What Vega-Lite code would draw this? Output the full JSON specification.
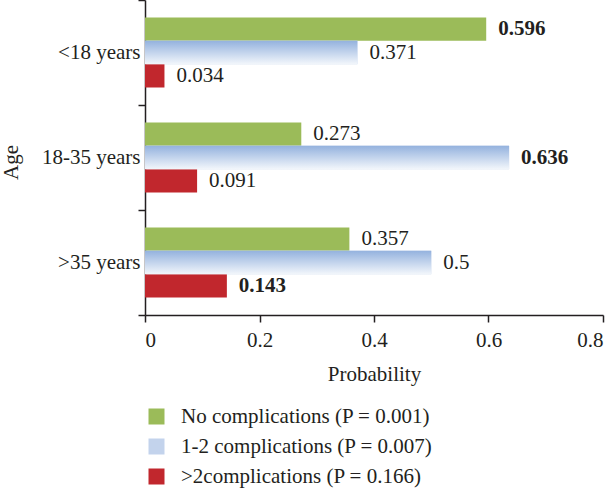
{
  "$schema": "https://vega.github.io/schema/vega-lite/v6.json",
  "width": 458,
  "height": 315,
  "autosize": "none",
  "padding": {"left": 145, "top": 0, "right": 13, "bottom": 189},
  "config": {
    "font": "Liberation Serif",
    "view": {"stroke": null},
    "axis": {
      "domainColor": "#231F20", "tickColor": "#231F20", "labelColor": "#231F20", "titleColor": "#231F20",
      "labelFont": "Liberation Serif", "titleFont": "Liberation Serif",
      "labelFontSize": 21, "titleFontSize": 21, "titleFontWeight": "normal",
      "grid": false, "domainWidth": 1.5, "tickWidth": 1.5
    }
  },
  "data": {
    "values": [
      {"age": "<18 years", "group": "No complications (P = 0.001)", "value": 0.596},
      {"age": "<18 years", "group": "1-2 complications (P = 0.007)", "value": 0.371},
      {"age": "<18 years", "group": ">2complications (P = 0.166)", "value": 0.034},
      {"age": "18-35 years", "group": "No complications (P = 0.001)", "value": 0.273},
      {"age": "18-35 years", "group": "1-2 complications (P = 0.007)", "value": 0.636},
      {"age": "18-35 years", "group": ">2complications (P = 0.166)", "value": 0.091},
      {"age": ">35 years", "group": "No complications (P = 0.001)", "value": 0.357},
      {"age": ">35 years", "group": "1-2 complications (P = 0.007)", "value": 0.5},
      {"age": ">35 years", "group": ">2complications (P = 0.166)", "value": 0.143}
    ]
  },
  "transform": [
    {"joinaggregate": [{"op": "max", "field": "value", "as": "maxv"}], "groupby": ["group"]}
  ],
  "encoding": {
    "y": {
      "field": "age", "type": "nominal",
      "sort": ["<18 years", "18-35 years", ">35 years"],
      "scale": {"paddingInner": 0, "paddingOuter": 0},
      "axis": {"title": "Age", "tickBand": "extent", "tickSize": 7, "labelPadding": -2, "titleX": -124, "titleY": 162}
    },
    "yOffset": {
      "field": "group", "type": "nominal",
      "sort": ["No complications (P = 0.001)", "1-2 complications (P = 0.007)", ">2complications (P = 0.166)"],
      "scale": {"paddingInner": 0, "paddingOuter": 0.75}
    },
    "x": {
      "field": "value", "type": "quantitative",
      "scale": {"domain": [0, 0.8]},
      "axis": {"title": "Probability", "values": [0, 0.2, 0.4, 0.6, 0.8], "format": "~g", "tickSize": 7, "labelPadding": 7, "titlePadding": 13}
    }
  },
  "layer": [
    {
      "mark": {"type": "bar"},
      "encoding": {
        "fill": {
          "field": "group", "type": "nominal",
          "sort": ["No complications (P = 0.001)", "1-2 complications (P = 0.007)", ">2complications (P = 0.166)"],
          "scale": {"range": ["#9BBB59", "#C3D3EC", "#C1272D"]},
          "legend": {
            "orient": "none", "legendX": 1, "legendY": 406, "title": null,
            "symbolType": "square", "symbolSize": 256, "symbolStrokeWidth": 0,
            "labelFontSize": 21, "labelFont": "Liberation Serif", "labelColor": "#231F20",
            "labelOffset": 14, "rowPadding": 8, "padding": 0, "labelLimit": 500
          }
        }
      }
    },
    {
      "transform": [{"filter": "datum.group == '1-2 complications (P = 0.007)'"}],
      "mark": {"type": "bar", "fill": {"gradient": "linear", "x1": 0, "y1": 0, "x2": 0, "y2": 1, "stops": [{"offset": 0, "color": "#94B2DE"}, {"offset": 1, "color": "#F2F6FB"}]}},
      "encoding": {}
    },
    {
      "transform": [{"filter": "datum.value < datum.maxv"}],
      "mark": {"type": "text", "align": "left", "dx": 12, "fontSize": 21, "color": "#231F20", "font": "Liberation Serif"},
      "encoding": {"text": {"field": "value", "type": "quantitative", "format": "~g"}}
    },
    {
      "transform": [{"filter": "datum.value == datum.maxv"}],
      "mark": {"type": "text", "align": "left", "dx": 12, "fontSize": 21, "fontWeight": "bold", "color": "#231F20", "font": "Liberation Serif"},
      "encoding": {"text": {"field": "value", "type": "quantitative", "format": "~g"}}
    }
  ]
}
